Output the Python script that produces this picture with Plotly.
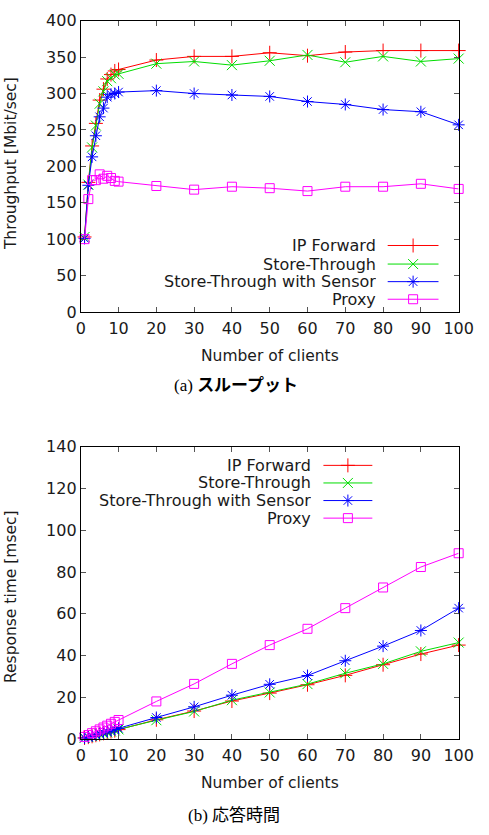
import plotly.graph_objects as go

W, H = 489, 835

# ---------------- data ----------------
clients = [1, 2, 3, 4, 5, 6, 7, 8, 9, 10, 20, 30, 40, 50, 60, 70, 80, 90, 100]

series_names = ["IP Forward", "Store-Through", "Store-Through with Sensor", "Proxy"]

thr_ip = [103, 178, 228, 259, 291, 306, 320, 326, 331, 333, 346, 351, 351, 356, 352, 357, 359, 359, 359]
thr_st = [103, 175, 226, 256, 286, 303, 317, 321, 326, 327, 341, 344, 339, 345, 353, 343, 351, 344, 348]
thr_sen = [101, 174, 213, 242, 268, 280, 295, 299, 300, 302, 304, 300, 298, 296, 289, 285, 278, 275, 257]
thr_px = [100, 155, 181, 181, 189, 183, 187, 184, 180, 179, 173, 168, 172, 170, 166, 172, 172, 176, 169]

rt_ip = [0.5, 0.9, 1.3, 1.8, 2.2, 2.7, 3.1, 3.6, 4.0, 4.5, 9.2, 13.4, 18.2, 22.0, 26.0, 30.5, 35.6, 40.7, 45.0]
rt_st = [0.5, 0.9, 1.4, 1.8, 2.3, 2.7, 3.2, 3.6, 4.1, 4.6, 9.0, 13.2, 18.6, 22.3, 26.3, 31.5, 36.0, 42.0, 46.2]
rt_sen = [0.5, 1.0, 1.5, 2.0, 2.6, 3.1, 3.6, 4.1, 4.6, 5.1, 10.3, 15.4, 21.0, 26.2, 30.4, 37.5, 44.5, 52.0, 62.7]
rt_px = [1.0, 1.9, 2.8, 3.7, 4.6, 5.5, 6.4, 7.3, 8.2, 9.1, 18.0, 26.4, 36.0, 45.0, 52.8, 62.7, 72.6, 82.4, 89.0]

x_ticks = [0, 10, 20, 30, 40, 50, 60, 70, 80, 90, 100]
thr_ticks = [0, 50, 100, 150, 200, 250, 300, 350, 400]
rt_ticks = [0, 20, 40, 60, 80, 100, 120, 140]

# ---------------- styles ----------------
colors = ["#ff0000", "#00dd00", "#0000ff", "#ff00ff"]
symbols = ["cross-thin", "x-thin", "asterisk-open", "square-open"]
msizes = [10, 10, 10, 9]
FONT = "DejaVu Sans"
TXT = "#1a1a1a"


def px_x(px):
    return px / W


def px_y(py):
    return 1 - py / H


fig = go.Figure()

top_series = [thr_ip, thr_st, thr_sen, thr_px]
bot_series = [rt_ip, rt_st, rt_sen, rt_px]

for i, name in enumerate(series_names):
    fig.add_trace(go.Scatter(
        x=clients, y=top_series[i], name=name, mode="lines+markers",
        line=dict(color=colors[i], width=1),
        marker=dict(symbol=symbols[i], size=msizes[i], color=colors[i],
                    line=dict(color=colors[i], width=1)),
        xaxis="x", yaxis="y", showlegend=False, cliponaxis=False))
for i, name in enumerate(series_names):
    fig.add_trace(go.Scatter(
        x=clients, y=bot_series[i], name=name, mode="lines+markers",
        line=dict(color=colors[i], width=1),
        marker=dict(symbol=symbols[i], size=msizes[i], color=colors[i],
                    line=dict(color=colors[i], width=1)),
        xaxis="x2", yaxis="y2", showlegend=False, cliponaxis=False))

# ---------------- manual legends (gnuplot style: text left, sample right) ----------------
legend_boxes = [
    dict(text_r=388, l0=399, l1=452, rows=[242, 261, 279, 297]),
    dict(text_r=320, l0=332, l1=383, rows=[467, 485, 503, 521]),
]
annotations = []
for box in legend_boxes:
    for i, name in enumerate(series_names):
        yy = box["rows"][i]
        fig.add_trace(go.Scatter(
            x=[box["l0"], box["l1"]], y=[yy, yy], mode="lines",
            line=dict(color=colors[i], width=1),
            xaxis="x3", yaxis="y3", showlegend=False, hoverinfo="skip"))
        fig.add_trace(go.Scatter(
            x=[(box["l0"] + box["l1"]) / 2], y=[yy], mode="markers",
            marker=dict(symbol=symbols[i], size=msizes[i], color=colors[i],
                        line=dict(color=colors[i], width=1)),
            xaxis="x3", yaxis="y3", showlegend=False, hoverinfo="skip", cliponaxis=False))
        annotations.append(dict(
            text=name, x=px_x(box["text_r"]), y=px_y(yy), xref="paper", yref="paper",
            xanchor="right", yanchor="middle", showarrow=False, height=17, borderpad=0,
            font=dict(family=FONT, size=16, color=TXT)))

annotations += [
    dict(text="Number of clients", x=px_x(276), y=px_y(355), xref="paper", yref="paper",
         xanchor="center", yanchor="middle", showarrow=False,
         font=dict(family=FONT, size=15.5, color=TXT)),
    dict(text="Number of clients", x=px_x(276), y=px_y(792), xref="paper", yref="paper",
         xanchor="center", yanchor="middle", showarrow=False,
         font=dict(family=FONT, size=15.5, color=TXT)),
    dict(text="Throughput [Mbit/sec]", x=px_x(7), y=px_y(158), xref="paper", yref="paper",
         xanchor="center", yanchor="middle", showarrow=False, textangle=-90,
         font=dict(family=FONT, size=15.5, color=TXT)),
    dict(text="Response time [msec]", x=px_x(7), y=px_y(601), xref="paper", yref="paper",
         xanchor="center", yanchor="middle", showarrow=False, textangle=-90,
         font=dict(family=FONT, size=15.5, color=TXT)),
    dict(text="<span style='font-family:Liberation Serif'>(a) </span>"
              "<b><span style='font-family:Noto Sans CJK JP'>スループット</span></b>",
         x=px_x(241), y=px_y(383), xref="paper", yref="paper",
         xanchor="center", yanchor="middle", showarrow=False,
         font=dict(family="Noto Sans CJK JP", size=17, color="#000000")),
    dict(text="<span style='font-family:Liberation Serif'>(b) </span>"
              "<span style='font-family:Noto Sans CJK JP'>応答時間</span>",
         x=px_x(239), y=px_y(823), xref="paper", yref="paper",
         xanchor="center", yanchor="middle", showarrow=False,
         font=dict(family="Noto Sans CJK JP", size=17, color="#000000")),
]

axis_common = dict(showline=True, linecolor="#000000", linewidth=1, mirror="ticks",
                   ticks="inside", ticklen=5, tickcolor="#555555", tickwidth=1,
                   showgrid=False, zeroline=False,
                   tickfont=dict(family=FONT, size=16, color=TXT))

xdom = [px_x(79), px_x(473)]
fig.update_layout(
    width=W, height=H, margin=dict(l=0, r=0, t=0, b=0),
    paper_bgcolor="white", plot_bgcolor="rgba(0,0,0,0)",
    xaxis=dict(domain=xdom, range=[0, 100], tickvals=x_ticks, anchor="y",
               ticklabelstandoff=2, **axis_common),
    yaxis=dict(domain=[px_y(310), px_y(12)], range=[0, 400], tickvals=thr_ticks,
               anchor="x", **axis_common),
    xaxis2=dict(domain=xdom, range=[0, 100], tickvals=x_ticks, anchor="y2",
                ticklabelstandoff=2, **axis_common),
    yaxis2=dict(domain=[px_y(747), px_y(448)], range=[0, 140], tickvals=rt_ticks,
                anchor="x2", **axis_common),
    xaxis3=dict(domain=[0, 1], range=[0, W], visible=False, anchor="y3"),
    yaxis3=dict(domain=[0, 1], range=[H, 0], visible=False, anchor="x3"),
    annotations=annotations,
    showlegend=False,
)

fig.write_html("out.html")
